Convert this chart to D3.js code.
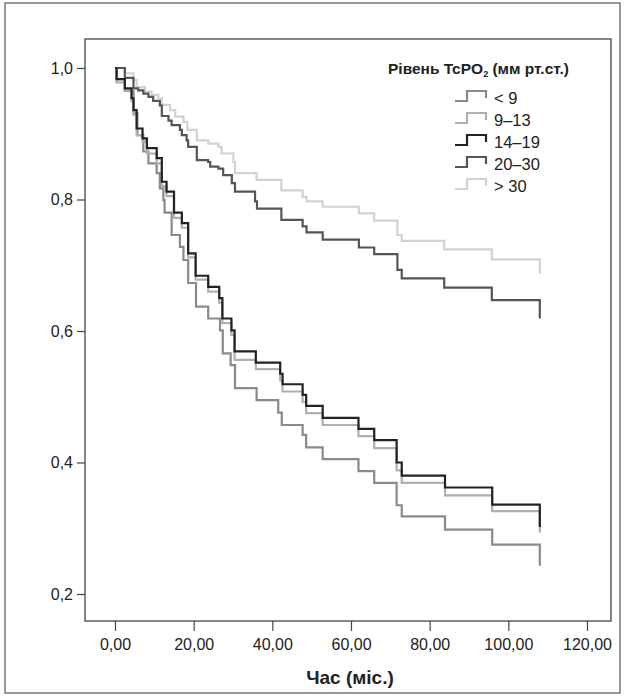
<!DOCTYPE html>
<html><head><meta charset="utf-8">
<script src="https://cdn.jsdelivr.net/npm/d3@7/dist/d3.min.js"></script>
<style>
html,body{margin:0;padding:0;background:#fff;}
svg{display:block;font-family:"Liberation Sans",Arial,sans-serif;}
</style></head>
<body>
<svg id="chart" width="625" height="697"></svg>
<script>
// ---- data (time in months, survival proportion) ----
const seriesNames = ["< 9", "9–13", "14–19", "20–30", "> 30"];
const xTicks = [0, 20, 40, 60, 80, 100, 120];
const yTicks = [0.2, 0.4, 0.6, 0.8, 1.0];

const sLt9 = [[0,1],[0.4,0.983],[2.5,0.965],[4.7,0.931],[5.7,0.898],[7.2,0.873],[8.5,0.855],[10.6,0.840],[11.4,0.817],[12.3,0.799],[12.6,0.780],[14.4,0.746],[16.5,0.728],[17.4,0.708],[18.6,0.673],[20.6,0.637],[23.7,0.619],[26.7,0.601],[27.4,0.566],[29.4,0.548],[30.5,0.513],[36.0,0.495],[41.5,0.476],[42.4,0.457],[47.7,0.442],[48.6,0.423],[52.8,0.405],[61.9,0.387],[65.9,0.369],[71.6,0.335],[72.9,0.318],[83.9,0.298],[95.9,0.275],[108,0.243]];
const s9_13 = [[0,1],[0.4,0.978],[2.5,0.966],[4.2,0.95],[4.7,0.929],[5.5,0.898],[7,0.888],[8.1,0.870],[10.6,0.855],[11.9,0.820],[13.1,0.805],[15,0.772],[17,0.757],[18.6,0.712],[20.5,0.678],[23.7,0.660],[26.5,0.643],[27.3,0.612],[29.6,0.594],[30.4,0.556],[35.8,0.542],[42.0,0.525],[42.6,0.508],[47.7,0.492],[48.6,0.475],[52.8,0.457],[61.9,0.440],[65.9,0.422],[71.6,0.388],[72.9,0.369],[83.9,0.350],[95.9,0.326],[108,0.293]];
const s14_19 = [[0,1],[0.4,0.983],[2.5,0.969],[4.2,0.954],[4.7,0.936],[5.5,0.908],[7,0.893],[8.1,0.878],[10.6,0.863],[11.9,0.827],[13.1,0.812],[15,0.78],[17,0.764],[18.6,0.718],[20.5,0.684],[23.7,0.667],[26.5,0.65],[27.3,0.619],[29.6,0.601],[30.4,0.569],[35.8,0.552],[42.0,0.535],[42.6,0.519],[47.7,0.503],[48.6,0.486],[52.8,0.468],[61.9,0.451],[65.9,0.434],[71.6,0.400],[72.9,0.380],[83.9,0.362],[95.9,0.336],[108,0.302]];
const s20_30 = [[0,1],[2.5,0.985],[4.7,0.969],[5.9,0.966],[7.2,0.961],[8.5,0.956],[9.7,0.950],[11.4,0.943],[11.9,0.927],[13.6,0.920],[14.4,0.913],[16.5,0.906],[17,0.898],[18.2,0.890],[18.6,0.880],[20.8,0.860],[23.7,0.857],[24.2,0.850],[26.3,0.847],[27.5,0.837],[29.7,0.825],[30.5,0.812],[35.6,0.797],[36.1,0.786],[42.3,0.769],[47.7,0.759],[48.7,0.750],[52.8,0.739],[62,0.727],[65.9,0.717],[71.8,0.693],[72.9,0.680],[83.7,0.666],[95.8,0.647],[108,0.619]];
const sGt30 = [[0,1],[2.5,0.992],[4.7,0.982],[5.5,0.971],[7.6,0.964],[9.3,0.959],[11,0.954],[11.9,0.944],[14,0.936],[15.3,0.926],[17.4,0.918],[18.4,0.906],[20.8,0.890],[23.7,0.885],[26.3,0.880],[27.1,0.870],[30.1,0.857],[30.5,0.840],[36,0.830],[42.3,0.814],[47.7,0.804],[48.7,0.797],[52.8,0.789],[62,0.779],[65.9,0.768],[71.8,0.746],[72.9,0.737],[83.7,0.724],[95.8,0.709],[108,0.687]];

const seriesData = [sLt9, s9_13, s14_19, s20_30, sGt30];
const seriesColors = ["#8a8a8a", "#b0b0b0", "#222222", "#555555", "#d2d2d2"];
const drawOrder = [4, 3, 0, 1, 2];

// ---- layout ----
const svg = d3.select("#chart");
const frame = {left: 85, right: 611, top: 39, bottom: 621};
const x = d3.scaleLinear().domain([0, 120]).range([115, 587]);
const y = d3.scaleLinear().domain([0.2, 1.0]).range([594, 68]);
const comma = d => d3.format(".1f")(d).replace(".", ",");
const comma2 = d => d3.format(".2f")(d).replace(".", ",");
const FONT = "'Liberation Sans', Arial, sans-serif";

// outer border
svg.append("rect").attr("x", 5).attr("y", 3).attr("width", 615).attr("height", 690)
  .attr("fill", "none").attr("stroke", "#777").attr("stroke-width", 1.5);

// plot frame
svg.append("rect").attr("x", frame.left).attr("y", frame.top)
  .attr("width", frame.right - frame.left).attr("height", frame.bottom - frame.top)
  .attr("fill", "none").attr("stroke", "#555").attr("stroke-width", 1.4);

// y axis
const gy = svg.append("g").attr("transform", `translate(${frame.left},0)`)
  .call(d3.axisLeft(y).tickValues(yTicks).tickFormat(comma).tickSize(8).tickPadding(4));
gy.select(".domain").remove();
gy.selectAll("line").attr("stroke", "#444").attr("stroke-width", 1.2);
gy.selectAll("text").attr("font-size", 16).attr("fill", "#222").attr("font-family", FONT);

// x axis
const gx = svg.append("g").attr("transform", `translate(0,${frame.bottom})`)
  .call(d3.axisBottom(x).tickValues(xTicks).tickFormat(comma2).tickSize(10).tickPadding(8));
gx.select(".domain").remove();
gx.selectAll("line").attr("stroke", "#444").attr("stroke-width", 1.2);
gx.selectAll("text").attr("font-size", 16).attr("fill", "#222").attr("font-family", FONT);

// x title
svg.append("text").attr("x", 350).attr("y", 684).attr("text-anchor", "middle")
  .attr("font-size", 19).attr("font-weight", "bold").attr("fill", "#222")
  .text("Час (міс.)");

// curves
const line = d3.line().x(d => x(d[0])).y(d => y(d[1])).curve(d3.curveStepAfter);
drawOrder.forEach(i => {
  svg.append("path").datum(seriesData[i])
    .attr("d", line).attr("fill", "none")
    .attr("stroke", seriesColors[i]).attr("stroke-width", 2.2)
    .attr("stroke-linejoin", "miter");
});

// legend
const lg = svg.append("g");
const title = lg.append("text").attr("x", 388).attr("y", 74)
  .attr("font-size", 15.5).attr("font-weight", "bold").attr("fill", "#222");
title.append("tspan").text("Рівень TcPO");
title.append("tspan").text("2").attr("font-size", 9).attr("dy", 3);
title.append("tspan").text(" (мм рт.ст.)").attr("dy", -3);

seriesNames.forEach((name, i) => {
  const cy = 98 + i * 22;
  lg.append("path")
    .attr("d", `M455,${cy + 3} H467 V${cy - 7} H486 V${cy}`)
    .attr("fill", "none").attr("stroke", seriesColors[i]).attr("stroke-width", 2.2);
  lg.append("text").attr("x", 494).attr("y", cy + 6)
    .attr("font-size", 16.5).attr("fill", "#222").text(name);
});
</script>
</body></html>
